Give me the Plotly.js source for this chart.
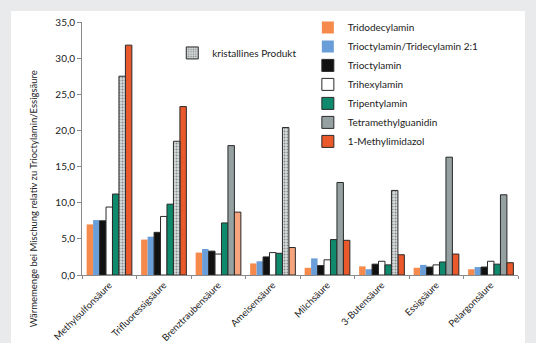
<!DOCTYPE html>
<html>
<head>
<meta charset="utf-8">
<script src="https://cdn.plot.ly/plotly-3.0.1.min.js"></script>
<style>html,body{margin:0;padding:0;background:#e9eaec;}#chart{width:536px;height:343px;}</style>
</head>
<body>
<div id="chart"></div>
<script>
const categories = ["Methylsulfonsäure","Trifluoressigsäure","Brenztraubensäure","Ameisensäure","Milchsäure","3-Butensäure","Essigsäure","Pelargonsäure"];
const tridodecylamin = [7.0, 4.9, 3.1, 1.6, 1.0, 1.2, 1.0, 0.8];
const trioctylTridecyl = [7.6, 5.3, 3.6, 1.9, 2.3, 0.8, 1.4, 1.1];
const trioctylamin = [7.5, 5.9, 3.3, 2.5, 1.3, 1.5, 1.1, 1.1];
const trihexylamin = [9.4, 8.1, 2.9, 3.1, 2.1, 1.9, 1.4, 1.9];
const tripentylamin = [11.2, 9.8, 7.2, 3.0, 4.9, 1.4, 1.8, 1.5];
const tetramethylguanidin = [null, null, 17.9, null, 12.8, null, 16.3, 11.1];
const kristallin = [27.5, 18.5, null, 20.4, null, 11.7, null, null];
const methylimidazol = [31.8, 23.3, 8.7, 3.8, 4.8, 2.8, 2.9, 1.7];
const methylimidazolLight = [false, false, true, true, false, false, false, false];
const yTicks = [0,5,10,15,20,25,30,35];
const yTitle = 'Wärmemenge bei Mischung relativ zu Trioctylamin/Essigsäure';

const edge = {color:'#2a2a2a', width:1};
function bar(name, y, color, group, line, extra){
  return Object.assign({
    type:'bar', name:name, x:categories, y:y, offsetgroup:group, legendgroup:name,
    marker:{color:color, line: line || {width:0}},
    hoverinfo:'x+y+name'
  }, extra||{});
}
const traces = [
  bar('Tridodecylamin', tridodecylamin, '#f58a4c', 'g1'),
  bar('Trioctylamin/Tridecylamin 2:1', trioctylTridecyl, '#6a9ed8', 'g2'),
  bar('Trioctylamin', trioctylamin, '#111111', 'g3', edge),
  bar('Trihexylamin', trihexylamin, '#ffffff', 'g4', edge),
  bar('Tripentylamin', tripentylamin, '#108a6c', 'g5', edge),
  bar('Tetramethylguanidin', tetramethylguanidin, '#95a0a1', 'g6', edge),
  bar('1-Methylimidazol', methylimidazol, methylimidazolLight.map(l => l ? '#f5a47e' : '#e9592c'), 'g7', edge),
  bar('kristallines Produkt', kristallin, '#d5d8d8', 'g6', edge, {legend:'legend2'})
];
traces[7].marker.pattern = {shape:'.', fgcolor:'#868b8c', bgcolor:'#dadddd', size:3, solidity:0.35};

const font = {family:'Lato, "Noto Sans", sans-serif', size:10, color:'#222'};
const layout = {
  width:536, height:343,
  margin:{l:82, r:18, t:22, b:68},
  paper_bgcolor:'#e9eaec', plot_bgcolor:'rgba(0,0,0,0)',
  font:font, separators:', ',
  barmode:'group', bargap:0.17, bargroupgap:0,
  showlegend:true,
  shapes:[{type:'rect', xref:'paper', yref:'paper', x0:-0.1628, x1:1.016, y0:-0.2688, y1:1.0435, fillcolor:'#ffffff', line:{width:0}, layer:'below'}],
  annotations:[{text:yTitle, xref:'paper', yref:'paper', x:-0.112, y:0.3, xanchor:'center', yanchor:'middle', textangle:-90, showarrow:false, font:{size:9.5, color:'#222'}}],
  xaxis:{type:'category', showline:true, linecolor:'#8a8a8a', linewidth:1, ticks:'outside', tickson:'boundaries', ticklen:3, tickcolor:'#8a8a8a', tickangle:-45, tickfont:{size:9.5, color:'#222'}, showgrid:false, fixedrange:true, automargin:false},
  yaxis:{range:[0,35], tickvals:yTicks, tickformat:'.1f', showline:true, linecolor:'#8a8a8a', linewidth:1, ticks:'outside', ticklen:4, tickcolor:'#8a8a8a', showgrid:false, zeroline:false, tickfont:{size:10, color:'#222'}},
  legend:{x:0.518, xanchor:'left', y:1.036, yanchor:'top', bgcolor:'rgba(0,0,0,0)', font:{size:10, color:'#222'}, tracegroupgap:0, traceorder:'grouped', itemclick:false},
  legend2:{x:0.207, xanchor:'left', y:0.935, yanchor:'top', bgcolor:'rgba(0,0,0,0)', font:{size:10, color:'#222'}, itemclick:false}
};
Plotly.newPlot('chart', traces, layout, {displayModeBar:false, staticPlot:true});
</script>
</body>
</html>
